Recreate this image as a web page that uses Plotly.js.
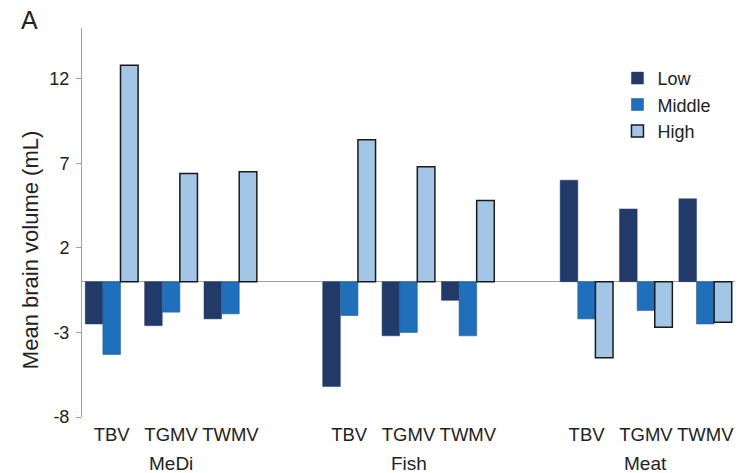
<!DOCTYPE html>
<html>
<head>
<meta charset="utf-8">
<script src="https://cdn.plot.ly/plotly-3.0.1.min.js"></script>
<style>
  html, body { margin: 0; padding: 0; background: #ffffff; }
  #chart { width: 747px; height: 473px; }
</style>
</head>
<body>
<div id="chart"></div>
<script>
// Brain volume measures within each dietary pattern
var measures = ['TBV', 'TGMV', 'TWMV'];
var dietGroups = ['MeDi', 'Fish', 'Meat'];

// Mean brain volume difference (mL) by adherence tertile,
// ordered MeDi (TBV, TGMV, TWMV), Fish (...), Meat (...)
var lowValues    = [-2.5, -2.6, -2.2,  -6.2, -3.2, -1.1,   6.0,  4.3,  4.9];
var middleValues = [-4.3, -1.8, -1.9,  -2.0, -3.0, -3.2,  -2.2, -1.7, -2.5];
var highValues   = [12.8,  6.4,  6.5,   8.4,  6.8,  4.8,  -4.5, -2.7, -2.4];

var seriesNames = ['Low', 'Middle', 'High'];
var yTicks = [-8, -3, 2, 7, 12];
var yTickText = ['-8', '-3', '2', '7', '12'];
var yRange = [-8, 15];

// Each diet occupies three slots, followed by one empty slot as a spacer
var slotsPerGroup = measures.length + 1;
var xPos = [], xLabels = [];
dietGroups.forEach(function (g, gi) {
  measures.forEach(function (m, mi) {
    xPos.push(gi * slotsPerGroup + mi);
    xLabels.push(m);
  });
});
var xRange = [-0.5, xPos[xPos.length - 1] + 0.5];

// Small tick marks on the zero line between category slots
var boundaryTicks = [];
for (var b = xRange[0] + 1; b <= xRange[1] + 1e-9; b += 1) boundaryTicks.push(b);

var textColor = '#222222';
var axisGrey = '#a0a0a0';
var font = 'Liberation Sans, Arial, Helvetica, sans-serif';

var traces = [
  { name: seriesNames[0], y: lowValues,
    marker: { color: '#213a68', line: { color: '#213a68', width: 0.5 } } },
  { name: seriesNames[1], y: middleValues,
    marker: { color: '#1f6fba', line: { color: '#2a5f96', width: 0.6 } } },
  { name: seriesNames[2], y: highValues,
    marker: { color: '#a3c5e6', line: { color: '#1a1a1a', width: 1.5 } } }
].map(function (t) {
  return {
    type: 'bar', x: xPos, y: t.y, name: t.name, marker: t.marker,
    legendgroup: t.name, hoverinfo: 'skip'
  };
});

// Diet-group labels centred under their three measures
var groupAnnotations = dietGroups.map(function (g, gi) {
  return {
    text: g, xref: 'x', yref: 'paper',
    x: gi * slotsPerGroup + (measures.length - 1) / 2, y: -0.119,
    xanchor: 'center', yanchor: 'middle', showarrow: false,
    font: { family: font, size: 19, color: textColor }
  };
});

var zeroFrac = (0 - yRange[0]) / (yRange[1] - yRange[0]);

var layout = {
  width: 747, height: 473,
  margin: { l: 82, r: 12, t: 28, b: 56 },
  paper_bgcolor: '#ffffff', plot_bgcolor: '#ffffff',
  barmode: 'group', bargap: 0.11, bargroupgap: 0,
  font: { family: font, color: textColor },
  showlegend: true,
  legend: {
    x: 0.82, y: 0.918, xanchor: 'left', yanchor: 'top',
    font: { family: font, size: 18, color: textColor },
    bgcolor: 'rgba(0,0,0,0)', tracegroupgap: 0, itemwidth: 30
  },
  xaxis: {
    range: xRange, tickmode: 'array', tickvals: xPos, ticktext: xLabels,
    ticks: '', showline: false, showgrid: false, zeroline: false,
    ticklabelstandoff: 4,
    tickfont: { family: font, size: 18.5, color: textColor }, fixedrange: true
  },
  xaxis2: {
    overlaying: 'x', anchor: 'free', position: zeroFrac, side: 'bottom',
    range: xRange, tickmode: 'array', tickvals: boundaryTicks,
    ticks: 'outside', ticklen: 4, tickwidth: 1, tickcolor: axisGrey,
    showticklabels: false, showline: false, showgrid: false, zeroline: false
  },
  yaxis: {
    range: yRange, tickmode: 'array', tickvals: yTicks, ticktext: yTickText,
    ticks: 'outside', ticklen: 5, tickwidth: 1, tickcolor: axisGrey,
    showline: true, linecolor: axisGrey, linewidth: 1,
    showgrid: false, zeroline: true, zerolinecolor: axisGrey, zerolinewidth: 1,
    ticklabelstandoff: 3,
    tickfont: { family: font, size: 18, color: textColor }, fixedrange: true
  },
  annotations: [
    { text: 'Mean brain volume (mL)', xref: 'paper', yref: 'paper',
      x: -0.079, y: 0.43, xanchor: 'center', yanchor: 'middle', textangle: -90,
      showarrow: false, font: { family: font, size: 22, color: textColor } },
    { text: 'A', xref: 'paper', yref: 'paper', x: -0.081, y: 1.02,
      xanchor: 'center', yanchor: 'middle', showarrow: false,
      font: { family: font, size: 25, color: textColor } }
  ].concat(groupAnnotations)
};

Plotly.newPlot('chart', traces, layout, { displayModeBar: false, staticPlot: true });
</script>
</body>
</html>
